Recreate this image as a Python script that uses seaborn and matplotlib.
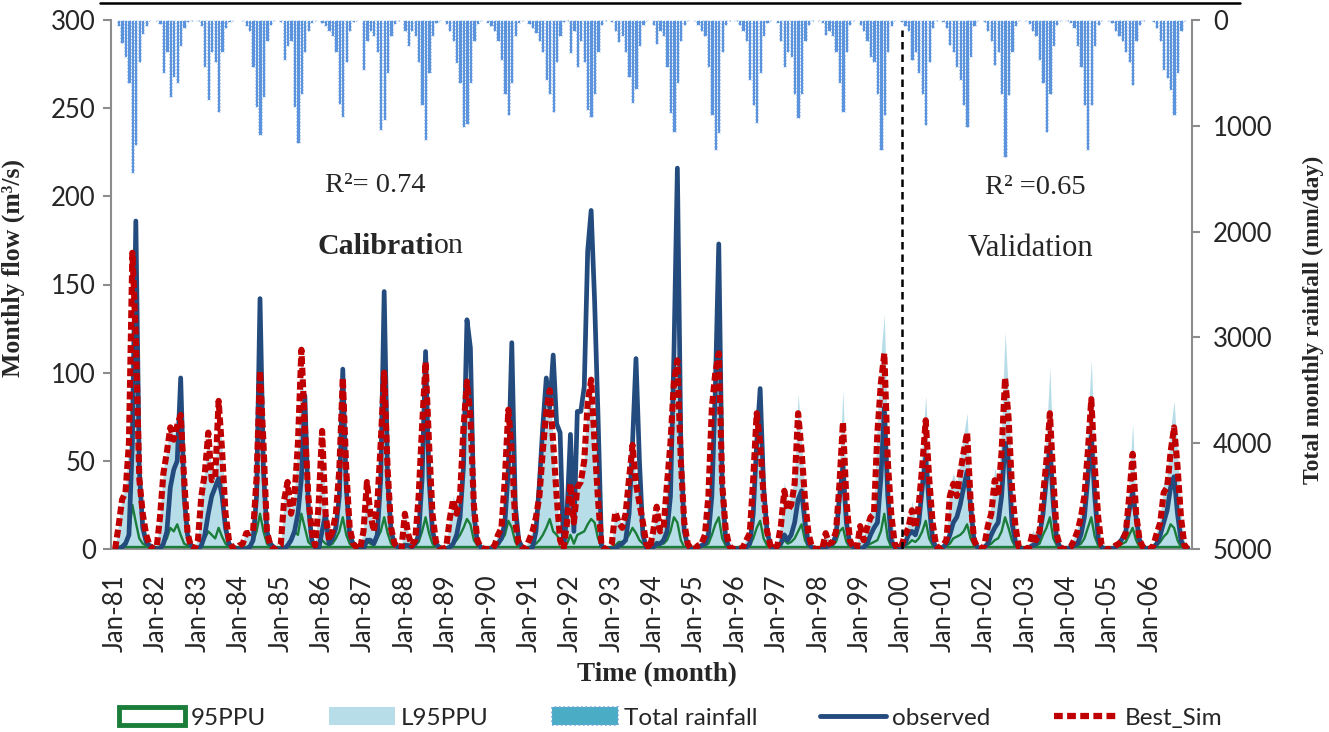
import numpy as np
import pandas as pd
import matplotlib
matplotlib.use("Agg")
import matplotlib.pyplot as plt
import seaborn as sns
from matplotlib.lines import Line2D
from matplotlib.patches import Patch

sns.set_theme(style="white")
plt.rcParams['font.family'] = ['Lato', 'DejaVu Sans']

# ---------------- data (monthly, Jan-1981 .. Dec-2006) ----------------
years = list(range(1981, 2007))
tick_labels = [f"Jan-{y % 100:02d}" for y in years]
split_label = "Jan-00"          # start of validation period
r2_calibration = "0.74"
r2_validation = "0.65"

observed = [
    0, 0, 1, 3, 8, 60, 186, 45, 12, 4, 2, 1,          # 1981
    0, 0, 3, 10, 35, 45, 50, 97, 30, 8, 2, 0,         # 1982
    0, 2, 8, 20, 30, 35, 40, 30, 12, 3, 1, 0,         # 1983
    0, 0, 0, 1, 5, 30, 142, 45, 10, 3, 1, 0,          # 1984
    0, 0, 2, 5, 10, 20, 40, 87, 25, 5, 1, 0,          # 1985
    10, 20, 3, 6, 12, 30, 102, 35, 8, 3, 1, 0,        # 1986
    0, 5, 5, 3, 8, 40, 146, 40, 10, 3, 1, 0,          # 1987
    2, 2, 1, 3, 8, 40, 112, 40, 10, 3, 1, 0,          # 1988
    0, 1, 3, 8, 18, 47, 130, 114, 20, 4, 1, 0,        # 1989
    0, 0, 1, 3, 6, 15, 45, 117, 25, 5, 1, 0,          # 1990
    0, 1, 10, 37, 70, 97, 80, 110, 71, 66, 0, 20,     # 1991
    65, 10, 78, 78, 92, 169, 192, 141, 75, 2, 0, 0,   # 1992
    0, 0, 2, 3, 5, 20, 60, 108, 50, 8, 1, 0,          # 1993
    1, 3, 3, 5, 10, 30, 110, 216, 60, 10, 2, 0,       # 1994
    0, 1, 2, 3, 8, 30, 90, 173, 35, 6, 1, 0,          # 1995
    0, 0, 0, 1, 3, 20, 60, 91, 35, 10, 2, 0,          # 1996
    1, 3, 8, 5, 8, 15, 28, 33, 15, 3, 1, 0,           # 1997
    0, 0, 1, 2, 3, 8, 30, 47, 15, 3, 1, 0,            # 1998
    0, 1, 3, 8, 12, 15, 40, 80, 30, 5, 1, 0,          # 1999
    1, 3, 8, 10, 8, 15, 35, 52, 25, 5, 1, 0,          # 2000
    1, 3, 8, 15, 18, 25, 35, 44, 25, 5, 1, 0,         # 2001
    1, 3, 8, 12, 15, 30, 60, 50, 15, 4, 1, 0,         # 2002
    0, 1, 2, 3, 8, 20, 40, 58, 25, 5, 1, 0,           # 2003
    0, 1, 2, 3, 8, 18, 40, 64, 30, 6, 1, 0,           # 2004
    0, 0, 1, 3, 6, 10, 22, 32, 18, 5, 1, 0,           # 2005
    0, 1, 3, 8, 15, 22, 35, 41, 20, 5, 1, 0,          # 2006
]

best_sim = [
    0, 13, 28, 32, 60, 168, 120, 40, 20, 8, 2, 0,     # 1981
    0, 18, 43, 55, 69, 62, 70, 76, 40, 9, 1, 0,       # 1982
    5, 30, 43, 66, 39, 40, 84, 56, 20, 5, 1, 0,       # 1983
    2, 3, 9, 9, 10, 40, 101, 60, 10, 2, 0, 0,         # 1984
    2, 28, 38, 20, 30, 60, 113, 70, 30, 10, 2, 25,    # 1985
    67, 20, 5, 10, 20, 45, 97, 45, 12, 3, 1, 0,       # 1986
    10, 38, 20, 10, 25, 60, 100, 45, 12, 3, 1, 0,     # 1987
    20, 8, 2, 5, 30, 70, 106, 60, 20, 4, 1, 0,        # 1988
    1, 17, 28, 20, 30, 69, 95, 75, 25, 5, 1, 0,       # 1989
    0, 0, 2, 8, 12, 40, 79, 55, 15, 3, 1, 0,          # 1990
    5, 10, 18, 30, 56, 78, 90, 60, 30, 5, 0, 15,      # 1991
    37, 15, 35, 38, 50, 83, 96, 60, 28, 2, 0, 0,      # 1992
    3, 21, 15, 12, 20, 40, 59, 37, 26, 15, 3, 0,      # 1993
    10, 24, 10, 12, 37, 60, 95, 107, 50, 15, 3, 0,    # 1994
    0, 2, 3, 8, 30, 80, 100, 111, 37, 11, 2, 0,       # 1995
    0, 0, 1, 5, 9, 40, 77, 60, 30, 10, 2, 0,          # 1996
    2, 13, 33, 22, 25, 37, 77, 56, 28, 9, 1, 0,       # 1997
    0, 0, 9, 3, 4, 10, 37, 72, 28, 5, 1, 0,           # 1998
    13, 5, 12, 18, 20, 66, 94, 111, 50, 20, 3, 0,     # 1999
    2, 8, 12, 22, 12, 25, 47, 73, 40, 15, 2, 0,       # 2000
    2, 5, 30, 37, 30, 43, 55, 66, 28, 5, 1, 0,        # 2001
    2, 13, 20, 39, 30, 55, 97, 75, 35, 13, 1, 0,      # 2002
    0, 1, 9, 5, 10, 30, 50, 77, 40, 8, 1, 0,          # 2003
    0, 1, 5, 10, 18, 30, 55, 85, 47, 18, 2, 0,        # 2004
    0, 0, 2, 3, 5, 9, 30, 54, 20, 5, 1, 0,            # 2005
    0, 2, 9, 15, 32, 35, 55, 69, 47, 18, 2, 0,        # 2006
]

l95ppu = [
    1, 14, 30, 35, 62, 170, 125, 45, 22, 9, 3, 1,     # 1981
    1, 20, 45, 57, 70, 65, 72, 78, 42, 10, 2, 1,      # 1982
    6, 32, 45, 68, 42, 42, 86, 58, 22, 6, 2, 1,       # 1983
    2, 4, 10, 10, 12, 42, 104, 62, 12, 3, 1, 1,       # 1984
    2, 30, 40, 22, 32, 62, 116, 72, 32, 11, 3, 27,    # 1985
    70, 22, 6, 12, 22, 47, 100, 47, 14, 4, 2, 1,      # 1986
    11, 40, 22, 12, 27, 62, 103, 47, 14, 4, 2, 1,     # 1987
    22, 9, 3, 6, 32, 72, 109, 62, 22, 5, 2, 1,        # 1988
    2, 18, 30, 22, 32, 72, 98, 78, 27, 6, 2, 1,       # 1989
    1, 1, 3, 9, 13, 42, 82, 58, 17, 4, 2, 1,          # 1990
    6, 11, 20, 32, 58, 80, 93, 62, 32, 6, 1, 17,      # 1991
    39, 17, 37, 40, 52, 86, 99, 62, 30, 3, 1, 1,      # 1992
    4, 23, 17, 14, 22, 42, 62, 40, 28, 16, 4, 1,      # 1993
    11, 26, 12, 14, 39, 72, 98, 110, 52, 17, 4, 1,    # 1994
    1, 3, 4, 9, 32, 82, 103, 114, 40, 12, 3, 1,       # 1995
    1, 1, 2, 6, 11, 45, 85, 68, 33, 12, 3, 1,         # 1996
    3, 16, 38, 26, 30, 42, 88, 62, 32, 11, 2, 1,      # 1997
    1, 1, 11, 5, 6, 14, 48, 90, 33, 7, 2, 1,          # 1998
    15, 7, 15, 22, 25, 75, 110, 133, 58, 23, 4, 1,    # 1999
    3, 10, 15, 27, 16, 32, 60, 87, 46, 18, 3, 1,      # 2000
    3, 7, 35, 43, 36, 52, 65, 77, 34, 7, 2, 1,        # 2001
    3, 16, 25, 46, 37, 70, 123, 88, 42, 15, 2, 1,     # 2002
    1, 2, 11, 7, 13, 38, 65, 103, 48, 10, 2, 1,       # 2003
    1, 2, 7, 13, 22, 38, 72, 107, 56, 22, 3, 1,       # 2004
    1, 1, 3, 5, 7, 12, 40, 71, 25, 7, 2, 1,           # 2005
    1, 3, 11, 18, 38, 42, 68, 84, 55, 22, 3, 1,       # 2006
]

ppu95_upper = [
    1, 1, 2, 4, 8, 25, 15, 6, 3, 2, 1, 1,             # 1981
    1, 1, 3, 6, 12, 10, 14, 8, 3, 2, 1, 1,            # 1982
    1, 2, 6, 10, 8, 6, 12, 7, 3, 1, 1, 1,             # 1983
    1, 1, 1, 2, 4, 10, 20, 10, 3, 1, 1, 1,            # 1984
    1, 1, 2, 4, 10, 8, 20, 12, 4, 2, 1, 3,            # 1985
    5, 3, 2, 3, 6, 10, 18, 8, 3, 1, 1, 1,             # 1986
    1, 4, 3, 2, 6, 10, 18, 9, 3, 1, 1, 1,             # 1987
    3, 2, 1, 2, 4, 10, 18, 9, 3, 1, 1, 1,             # 1988
    1, 1, 3, 5, 8, 12, 17, 14, 5, 2, 1, 1,            # 1989
    1, 1, 1, 3, 5, 8, 16, 12, 4, 1, 1, 1,             # 1990
    1, 2, 3, 5, 8, 12, 17, 10, 8, 5, 1, 3,            # 1991
    8, 3, 8, 9, 10, 14, 17, 15, 6, 1, 1, 1,           # 1992
    1, 2, 4, 4, 5, 8, 12, 9, 5, 3, 1, 1,              # 1993
    2, 4, 3, 3, 5, 10, 18, 15, 5, 1, 1, 1,            # 1994
    1, 1, 1, 2, 3, 8, 14, 18, 6, 2, 1, 1,             # 1995
    1, 1, 1, 1, 2, 6, 12, 16, 6, 2, 1, 1,             # 1996
    1, 3, 5, 3, 4, 6, 10, 14, 5, 1, 1, 1,             # 1997
    1, 1, 1, 1, 2, 4, 10, 12, 4, 1, 1, 1,             # 1998
    1, 1, 2, 3, 4, 5, 10, 20, 6, 1, 1, 1,             # 1999
    1, 2, 3, 5, 4, 6, 10, 16, 6, 2, 1, 1,             # 2000
    1, 2, 3, 6, 7, 8, 10, 14, 6, 2, 1, 1,             # 2001
    1, 2, 3, 5, 6, 10, 18, 12, 5, 1, 1, 1,            # 2002
    1, 1, 1, 2, 3, 8, 12, 18, 6, 2, 1, 1,             # 2003
    1, 1, 1, 2, 3, 6, 12, 18, 7, 2, 1, 1,             # 2004
    1, 1, 1, 2, 3, 4, 8, 12, 5, 1, 1, 1,              # 2005
    1, 1, 2, 4, 7, 9, 14, 12, 5, 1, 1, 1,             # 2006
]
ppu95_lower_level = 1.0   # flat lower 95PPU bound (m3/s)

rainfall = [
    0, 55, 220, 350, 600, 1450, 1180, 400, 130, 60, 10, 0,      # 1981
    10, 40, 500, 300, 725, 540, 600, 250, 80, 20, 5, 0,         # 1982
    10, 60, 440, 760, 300, 400, 870, 300, 80, 20, 5, 0,         # 1983
    0, 10, 60, 100, 440, 820, 1090, 725, 200, 50, 10, 0,        # 1984
    20, 380, 250, 200, 820, 1165, 700, 300, 100, 30, 5, 0,      # 1985
    30, 60, 100, 150, 300, 790, 915, 400, 100, 20, 5, 0,        # 1986
    470, 200, 100, 150, 300, 1040, 945, 500, 150, 40, 5, 0,     # 1987
    100, 250, 100, 150, 400, 800, 1135, 500, 150, 30, 5, 0,     # 1988
    40, 100, 200, 410, 600, 1010, 980, 600, 200, 40, 5, 0,      # 1989
    30, 60, 100, 200, 380, 700, 900, 600, 150, 30, 5, 0,        # 1990
    40, 80, 120, 200, 300, 570, 700, 870, 400, 150, 20, 5,      # 1991
    315, 100, 440, 200, 400, 850, 915, 700, 300, 50, 10, 0,     # 1992
    20, 100, 210, 150, 300, 540, 785, 650, 250, 50, 10, 0,      # 1993
    50, 230, 100, 150, 440, 880, 1060, 600, 200, 50, 10, 0,     # 1994
    10, 50, 100, 150, 440, 900, 1230, 1070, 300, 50, 10, 0,     # 1995
    10, 50, 100, 200, 570, 800, 975, 500, 150, 30, 5, 0,        # 1996
    30, 200, 440, 300, 350, 700, 925, 700, 200, 50, 10, 0,      # 1997
    10, 30, 140, 100, 150, 300, 600, 870, 300, 50, 10, 0,       # 1998
    50, 100, 200, 350, 400, 700, 1230, 900, 300, 60, 10, 0,     # 1999
    20, 60, 100, 380, 300, 500, 700, 990, 400, 80, 10, 0,       # 2000
    20, 80, 240, 300, 440, 570, 800, 1010, 350, 60, 10, 0,      # 2001
    20, 100, 200, 430, 300, 700, 1295, 710, 300, 60, 10, 0,     # 2002
    10, 40, 100, 150, 380, 600, 1060, 700, 250, 50, 10, 0,      # 2003
    10, 30, 80, 250, 440, 800, 1230, 800, 250, 50, 10, 0,       # 2004
    10, 30, 100, 150, 200, 300, 400, 615, 200, 50, 10, 0,       # 2005
    0, 20, 80, 200, 470, 550, 660, 900, 500, 100, 10, 0,        # 2006
]

# ---------------- build frame ----------------
n = len(observed)
df = pd.DataFrame({
    "t": np.arange(n),
    "observed": observed,
    "best_sim": best_sim,
    "l95ppu": l95ppu,
    "ppu_up": ppu95_upper,
    "ppu_low": np.full(n, ppu95_lower_level),
    "rain": rainfall,
})

# ---------------- figure ----------------
W, H = 1329, 732
fig = plt.figure(figsize=(W / 100, H / 100), dpi=100)
ax = fig.add_axes([111 / W, 1 - 549 / H, (1192 - 111) / W, (549 - 20) / H])
ax2 = ax.twinx()
ax.set_zorder(ax2.get_zorder() + 1)
ax.patch.set_visible(False)

c_obs = "#234B7E"
c_sim = "#C00000"
c_band = "#B7DDE8"
c_green = "#1B7D3A"
c_rain = "#5B93DC"

# rainfall bars (inverted right axis)
ax2.bar(df["t"], df["rain"], width=0.95, color=c_rain, edgecolor="white",
        linewidth=0.6, linestyle=(0, (2.5, 1.5)))
ax2.set_ylim(5000, 0)
ax2.set_yticks(np.arange(0, 5001, 1000))

# L95PPU band
ax.fill_between(df["t"], 0, df["l95ppu"], color=c_band, lw=0, zorder=1)
# 95PPU green lines
sns.lineplot(data=df, x="t", y="ppu_low", ax=ax, color=c_green, lw=2.4, zorder=2)
sns.lineplot(data=df, x="t", y="ppu_up", ax=ax, color=c_green, lw=1.7, zorder=2)
# observed
sns.lineplot(data=df, x="t", y="observed", ax=ax, color=c_obs, lw=3.4, zorder=3)
obs_line = ax.get_lines()[-1]
obs_line.set_solid_joinstyle("round")
obs_line.set_solid_capstyle("round")
# best simulation
sns.lineplot(data=df, x="t", y="best_sim", ax=ax, color=c_sim, lw=4.4, zorder=4)
sim_line = ax.get_lines()[-1]
sim_line.set_dashes([1.3, 0.6])
sim_line.set_dash_capstyle("butt")
sim_line.set_dash_joinstyle("round")

# calibration / validation split
split_t = tick_labels.index(split_label) * 12
ax.axvline(split_t, ymin=0, ymax=(549 - 30) / 529, color="black", lw=1.8,
           ls=(0, (3, 2)), zorder=5)

# axes limits / ticks
ax.set_xlim(-1.2, 312.2)
ax.set_ylim(0, 300)
ax.set_yticks(np.arange(0, 301, 50))
ax.set_xticks(np.arange(0, n, 12))
ax.set_xticklabels(tick_labels, rotation=90)

gray = "#8C8C8C"
for a in (ax, ax2):
    for s in a.spines.values():
        s.set_visible(False)
ax.spines["left"].set_visible(True)
ax.spines["left"].set_color(gray)
ax.spines["left"].set_linewidth(1.5)
ax.spines["bottom"].set_visible(True)
ax.spines["bottom"].set_color(gray)
ax.spines["bottom"].set_linewidth(1.2)
ax2.spines["right"].set_visible(True)
ax2.spines["right"].set_color(gray)
ax2.spines["right"].set_linewidth(1.5)

ax.tick_params(axis="y", which="both", left=True, length=6, width=1.5, color=gray,
               labelsize=18.5, pad=5, direction="out")
ax.tick_params(axis="x", bottom=False, labelsize=18.5, pad=12)
ax2.tick_params(axis="y", right=True, length=6, width=1.5, color=gray,
                labelsize=18.5, pad=9, direction="out")

serif = ["Liberation Serif", "DejaVu Serif"]
ax.set_xlabel("Time (month)", fontsize=19.5, fontweight="bold", family=serif)
ax.xaxis.set_label_coords((657 - 111) / 1081, (549 - 662) / 529)
ax.set_ylabel("Monthly flow (m³/s)", fontsize=18.5, fontweight="bold", family=serif)
ax.yaxis.set_label_coords((25 - 111) / 1081, (549 - 268) / 529)
ax2.set_ylabel("Total monthly rainfall (mm/day)", fontsize=17, fontweight="bold",
               family=serif, rotation=90)
ax2.yaxis.set_label_coords((1303 - 111) / 1081, (549 - 320) / 529)

# annotations
def axpos(px, py):
    return ((px - 111) / 1081, (549 - py) / 529)

ax.text(*axpos(375, 185), f"R²= {r2_calibration}", transform=ax.transAxes,
        ha="center", va="center", fontsize=20.5, family=serif, zorder=6)
ax.text(*axpos(434, 246), "Calibrati", transform=ax.transAxes,
        ha="right", va="center", fontsize=21.5, fontweight="bold", family=serif, zorder=6)
ax.text(*axpos(434, 246), "on", transform=ax.transAxes,
        ha="left", va="center", fontsize=21.5, family=serif, zorder=6)
ax.text(*axpos(1035, 187), f"R² ={r2_validation}", transform=ax.transAxes,
        ha="center", va="center", fontsize=20.5, family=serif, zorder=6)
ax.text(*axpos(1030, 249), "Validation", transform=ax.transAxes,
        ha="center", va="center", fontsize=22, family=serif, zorder=6)

# top rule
fig.add_artist(Line2D([100 / W, 1240 / W], [1 - 3 / H, 1 - 3 / H],
                      transform=fig.transFigure, color="black", lw=1.8))

# legend
handles = [
    Patch(facecolor="white", edgecolor=c_green, linewidth=3.5),
    Patch(facecolor=c_band, edgecolor="none"),
    Patch(facecolor="#4BACC6", edgecolor="#6FA8DC", linestyle=":", linewidth=1.2),
    Line2D([0], [0], color=c_obs, lw=3.5),
    Line2D([0], [0], color=c_sim, lw=4.5, dashes=[1.4, 0.7], dash_capstyle="butt"),
]
labels = ["95PPU", "L95PPU", "Total rainfall", "observed", "Best_Sim"]
fig.legend(handles, labels, loc="center", bbox_to_anchor=(671 / W, 1 - 718 / H),
           ncol=5, frameon=False, fontsize=17.5, handlelength=2.7, handleheight=0.75,
           handletextpad=0.25, columnspacing=2.6)

fig.savefig("out.png", dpi=100)
